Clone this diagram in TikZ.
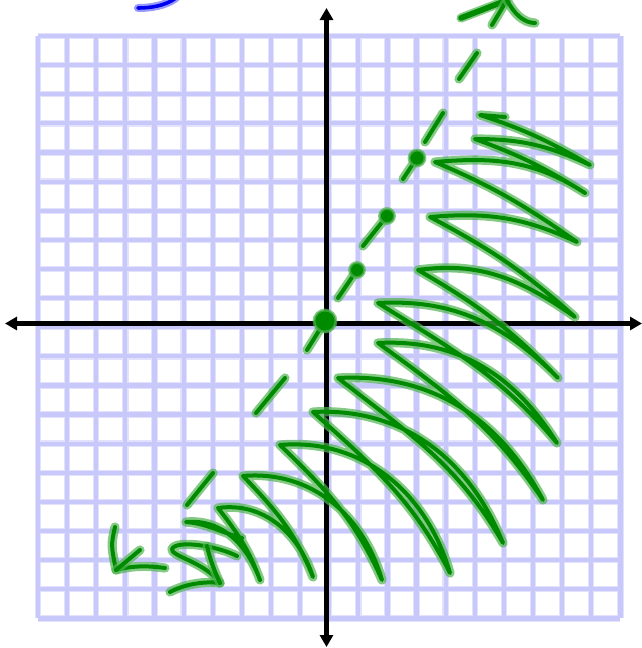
\documentclass[tikz,border=0pt]{standalone}
\usetikzlibrary{arrows.meta}
\definecolor{gridcore}{RGB}{200,200,250}
\definecolor{gridhalo}{RGB}{226,226,252}
\definecolor{inkgreen}{RGB}{0,138,0}
\definecolor{halogreen}{RGB}{80,180,80}
\definecolor{inkblue}{RGB}{0,0,240}
\definecolor{haloblue}{RGB}{110,110,250}
\begin{document}
\begin{tikzpicture}[
        x=0.5pt, y=-0.5pt,
        gridline/.style={draw=gridcore, line width=2.1pt, preaction={draw=gridhalo, line width=3.2pt}},
        axis/.style={draw=black, line width=2.6pt, {Triangle[length=6pt,width=6.5pt]}-{Triangle[length=6pt,width=6.5pt]}},
        pen/.style={draw=inkgreen, line width=2pt, line cap=round, line join=round,
            preaction={draw=halogreen, draw opacity=0.7, line width=4.6pt, line cap=round, line join=round}},
        bluepen/.style={draw=inkblue, line width=1.8pt, line cap=round,
            preaction={draw=haloblue, draw opacity=0.7, line width=4pt, line cap=round}},
        dot/.style={fill=inkgreen, draw=halogreen, draw opacity=0.7, line width=1.4pt}
    ]
        \useasboundingbox (0,0) rectangle (642,648);

        % grid paper
        \draw[gridline] \foreach \i in {0,...,20} {(38+\i*29.12,36) -- (38+\i*29.12,618.4) (38,36+\i*29.12) -- (620.4,36+\i*29.12)};

        \coordinate (xmin) at (5,323.5);
        \coordinate (xmax) at (642,323.5);
        \coordinate (ymax) at (326.5,8);
        \coordinate (ymin) at (326.5,647);
        \draw[axis] (xmin) -- (xmax);
        \draw[axis] (ymax) -- (ymin);

        % turning points of the shading
        \foreach \n/\x/\y in {L1/480/115, R1/590/165, L2/475/139, R2/585/193, L3/435/162, R3/577/242,
                L4/430/217, R4/575/317, L5/418/270, R5/558/378, L6/378/303, R6/557/443,
                L7/378/343, R7/543/500, L8/338/378, R8/503/543, L9/313/412, R9/450/573,
                L10/280/445, R10/382/580, L11/243/476, R11/313/577, L12/218/508, R12/260/580,
                L13/186/522}
            \coordinate (\n) at (\x,\y);

        \draw[pen] (505,117) -- (L1)
            to[out=-18,in=-210] (R1) to[out=-205,in=0] (L2)
            to[out=-20,in=-212] (R2) to[out=-213,in=5] (L3)
            to[out=-23,in=-215] (R3) to[out=-205,in=5] (L4)
            to[out=-28,in=-222] (R4) to[out=-215,in=8] (L5)
            to[out=-30,in=-226] (R5) to[out=-225,in=3] (L6)
            to[out=-32,in=-230] (R6) to[out=-238,in=3] (L7)
            to[out=-36,in=-236] (R7) to[out=-242,in=3] (L8)
            to[out=-38,in=-240] (R8) to[out=-248,in=3] (L9)
            to[out=-42,in=-243] (R9) to[out=-254,in=5] (L10)
            to[out=-44,in=-246] (R10) to[out=-254,in=5] (L11)
            to[out=-46,in=-248] (R11) to[out=-252,in=8] (L12)
            to[out=-52,in=-250] (R12) to[out=-250,in=5] (L13)
            to[out=-5,in=-195] (242,538);

        % boundary line
        \coordinate (p0) at (325,321);
        \coordinate (p1) at (357,270);
        \coordinate (p2) at (387,216);
        \coordinate (p3) at (417,158);
        \draw[pen] (477,53) -- (459,79);
        \draw[pen] (443,113) -- (425,142);
        \draw[pen] (p3) -- (403,179);
        \draw[pen] (p2) -- (363,246);
        \draw[pen] (p1) -- (338,298);
        \draw[pen] (p0) -- (307,350);
        \draw[pen] (285,378) -- (256,413);
        \draw[pen] (213,473) -- (187,505);
        \filldraw[dot] (p0) circle[radius=11];
        \filldraw[dot] (p1) circle[radius=7.5];
        \filldraw[dot] (p2) circle[radius=7.5];
        \filldraw[dot] (p3) circle[radius=8];

        % arrows
        \draw[pen, line width=2.8pt] (461,18) -- (505,1);
        \draw[pen] (492,25) -- (507,0);
        \draw[pen] (507,0) .. controls (514,14) and (524,23) .. (535,23);
        \draw[pen] (115,527) .. controls (111,545) .. (116,570) .. controls (135,565) and (150,566) .. (165,568);
        \draw[pen] (140,550) -- (116,570);
        \draw[pen] (237,556) .. controls (215,545) and (176,540) .. (172,549) .. controls (170,556) and (205,562) .. (220,583);
        \draw[pen] (170,592) .. controls (185,584) and (205,581) .. (220,583);
        \draw[pen] (207,546) .. controls (210,560) and (215,572) .. (220,583);

        \draw[bluepen] (138,8) .. controls (150,8) and (165,6) .. (176,-2);
    \end{tikzpicture}
\end{document}
